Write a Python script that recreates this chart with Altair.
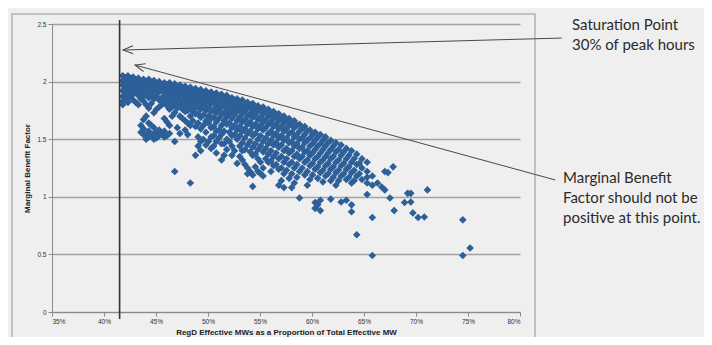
import altair as alt
import pandas as pd

# RegD effective MW share (%) -> list of marginal benefit factor values observed
band_left = [
    (41.8, [2.05, 2.01, 1.97, 1.92, 1.87, 1.83, 1.80]),
    (42.3, [2.05, 2.00, 1.96, 1.91, 1.86, 1.82]),
    (42.8, [2.04, 1.99, 1.95, 1.89, 1.84]),
    (43.3, [2.03, 1.99, 1.94, 1.88, 1.80]),
    (43.8, [2.02, 1.98, 1.93, 1.87, 1.83, 1.67, 1.59, 1.54]),
    (44.3, [2.02, 1.97, 1.92, 1.86, 1.77, 1.64, 1.57, 1.52]),
    (44.8, [2.01, 1.96, 1.91, 1.85, 1.73, 1.60, 1.55, 1.50]),
    (45.3, [2.00, 1.96, 1.91, 1.84, 1.78, 1.58, 1.53]),
    (45.8, [1.99, 1.95, 1.90, 1.83, 1.68, 1.57, 1.52]),
    (46.3, [1.99, 1.94, 1.89, 1.82, 1.76, 1.62, 1.55]),
    (46.8, [1.98, 1.93, 1.88, 1.81, 1.73, 1.48, 1.22]),
    (47.3, [1.97, 1.92, 1.87, 1.80, 1.70, 1.55]),
    (47.8, [1.96, 1.91, 1.86, 1.79, 1.74, 1.66, 1.58]),
]
band_mid = [
    (48.3, [1.95, 1.90, 1.85, 1.78, 1.70, 1.62, 1.12]),
    (48.8, [1.94, 1.89, 1.84, 1.77, 1.72, 1.61, 1.36]),
    (49.3, [1.93, 1.88, 1.83, 1.76, 1.69, 1.59, 1.48, 1.40]),
    (49.8, [1.92, 1.87, 1.82, 1.75, 1.66, 1.56, 1.45]),
    (50.3, [1.91, 1.86, 1.81, 1.74, 1.68, 1.60, 1.52, 1.42]),
    (50.8, [1.90, 1.85, 1.79, 1.73, 1.65, 1.57, 1.48, 1.38]),
    (51.3, [1.89, 1.84, 1.78, 1.71, 1.62, 1.54, 1.46, 1.32]),
    (51.8, [1.88, 1.82, 1.76, 1.69, 1.63, 1.50, 1.41]),
    (52.3, [1.86, 1.81, 1.75, 1.68, 1.60, 1.53, 1.44, 1.36]),
    (52.8, [1.85, 1.80, 1.74, 1.66, 1.58, 1.50, 1.29]),
    (53.3, [1.84, 1.78, 1.72, 1.65, 1.57, 1.47, 1.40, 1.32]),
    (53.8, [1.82, 1.77, 1.70, 1.63, 1.55, 1.45, 1.25, 1.20]),
    (54.3, [1.81, 1.75, 1.69, 1.61, 1.53, 1.43, 1.36, 1.19, 1.09]),
    (54.8, [1.79, 1.74, 1.67, 1.59, 1.50, 1.41, 1.33, 1.22]),
]
band_right = [
    (55.3, [1.78, 1.72, 1.65, 1.58, 1.48, 1.39, 1.25, 1.18]),
    (55.8, [1.76, 1.70, 1.63, 1.55, 1.46, 1.37, 1.30]),
    (56.3, [1.74, 1.68, 1.61, 1.53, 1.45, 1.35, 1.27]),
    (56.8, [1.72, 1.66, 1.59, 1.51, 1.43, 1.33, 1.24, 1.10]),
    (57.3, [1.70, 1.64, 1.57, 1.49, 1.40, 1.30, 1.20, 1.08]),
    (57.8, [1.68, 1.62, 1.55, 1.47, 1.38, 1.28, 1.16]),
    (58.3, [1.66, 1.60, 1.52, 1.44, 1.35, 1.25, 1.12]),
    (58.8, [1.63, 1.57, 1.50, 1.42, 1.33, 1.22, 0.99]),
    (59.3, [1.61, 1.54, 1.47, 1.39, 1.30, 1.19]),
    (59.8, [1.58, 1.51, 1.44, 1.36, 1.27, 1.15]),
    (60.3, [1.56, 1.49, 1.41, 1.33, 1.24, 0.95, 0.90]),
    (60.8, [1.54, 1.46, 1.38, 1.30, 1.21, 0.97, 0.88]),
]
band_tail = [
    (61.3, [1.52, 1.44, 1.35, 1.27, 1.18]),
    (61.8, [1.49, 1.41, 1.33, 1.24, 1.14, 0.98]),
    (62.3, [1.47, 1.39, 1.30, 1.21, 1.10]),
    (62.8, [1.45, 1.36, 1.27, 1.18, 0.955]),
    (63.3, [1.42, 1.33, 1.24, 1.15, 0.97]),
    (63.8, [1.40, 1.30, 1.21, 1.12, 0.93, 0.87]),
    (64.3, [1.37, 1.28, 1.18, 0.67]),
    (64.8, [1.33, 1.25, 1.15]),
    (65.3, [1.30, 1.22, 1.17, 1.12, 1.02]),
    (65.8, [1.18, 1.10, 0.82, 0.49]),
]
band_fill = [
    (42.05, [2.03, 1.98, 1.94, 1.89, 1.84]),
    (42.55, [2.02, 1.97, 1.92, 1.87]),
    (43.05, [2.01, 1.96, 1.91, 1.82]),
    (43.55, [2.00, 1.95, 1.90, 1.85, 1.62, 1.56]),
    (44.05, [2.00, 1.95, 1.89, 1.80, 1.70, 1.55, 1.50]),
    (44.55, [1.99, 1.94, 1.88, 1.81, 1.62, 1.53]),
    (45.05, [1.98, 1.93, 1.87, 1.76, 1.56, 1.51]),
    (45.55, [1.97, 1.93, 1.86, 1.80, 1.55]),
    (46.05, [1.97, 1.92, 1.86, 1.79, 1.65, 1.53]),
    (46.55, [1.96, 1.91, 1.85, 1.78, 1.70]),
    (47.05, [1.95, 1.90, 1.84, 1.77, 1.60]),
    (47.55, [1.94, 1.89, 1.83, 1.76, 1.68]),
    (48.05, [1.93, 1.88, 1.82, 1.75, 1.64, 1.54]),
    (48.55, [1.92, 1.87, 1.81, 1.74, 1.66]),
    (49.05, [1.91, 1.86, 1.80, 1.72, 1.64, 1.52, 1.44]),
    (49.55, [1.90, 1.85, 1.79, 1.71, 1.62, 1.50]),
    (50.05, [1.89, 1.84, 1.78, 1.70, 1.64, 1.48]),
    (50.55, [1.88, 1.83, 1.76, 1.69, 1.61, 1.53, 1.44]),
    (51.05, [1.87, 1.81, 1.75, 1.68, 1.58, 1.51]),
    (51.55, [1.86, 1.80, 1.73, 1.66, 1.57, 1.46, 1.36]),
    (52.05, [1.85, 1.78, 1.72, 1.64, 1.56, 1.48]),
    (52.55, [1.84, 1.77, 1.71, 1.62, 1.54, 1.40]),
    (53.05, [1.82, 1.76, 1.69, 1.61, 1.53, 1.44, 1.35]),
    (53.55, [1.80, 1.74, 1.67, 1.59, 1.51, 1.41, 1.28]),
    (54.05, [1.79, 1.72, 1.65, 1.57, 1.48, 1.39, 1.22]),
    (54.55, [1.77, 1.71, 1.63, 1.55, 1.46, 1.37, 1.26]),
    (55.05, [1.76, 1.69, 1.62, 1.53, 1.44, 1.30, 1.20]),
    (55.55, [1.74, 1.67, 1.60, 1.51, 1.42, 1.33]),
    (56.05, [1.72, 1.65, 1.57, 1.49, 1.40, 1.31, 1.22]),
    (56.55, [1.70, 1.63, 1.55, 1.47, 1.38, 1.28]),
    (57.05, [1.68, 1.61, 1.53, 1.45, 1.35, 1.25, 1.14]),
    (57.55, [1.66, 1.59, 1.51, 1.42, 1.33, 1.23]),
    (58.05, [1.64, 1.56, 1.48, 1.40, 1.30, 1.20, 1.08]),
    (58.55, [1.62, 1.54, 1.46, 1.37, 1.28, 1.17]),
    (59.05, [1.59, 1.51, 1.43, 1.35, 1.25]),
    (59.55, [1.57, 1.49, 1.40, 1.32, 1.22, 1.10]),
    (60.05, [1.54, 1.46, 1.38, 1.29, 1.19]),
    (60.55, [1.52, 1.44, 1.35, 1.26, 1.16, 0.93]),
    (61.05, [1.49, 1.41, 1.32, 1.23, 1.13]),
    (61.55, [1.47, 1.38, 1.29, 1.20]),
    (62.05, [1.44, 1.35, 1.26, 1.17]),
    (62.55, [1.41, 1.32, 1.23, 1.14]),
    (63.05, [1.39, 1.29, 1.20]),
    (63.55, [1.36, 1.26, 1.17]),
    (64.05, [1.33, 1.23, 1.14]),
    (64.55, [1.29, 1.20]),
]
outliers = [
    (66.3, [1.12]), (66.7, [1.085]), (67.0, [1.06, 1.22]), (67.3, [1.21]),
    (67.5, [0.99]), (67.8, [1.26]), (67.9, [0.88]), (68.9, [0.95]),
    (69.2, [1.03]), (69.5, [1.03, 0.955]), (69.7, [0.86]), (70.2, [0.82]),
    (70.8, [0.825]), (71.1, [1.06]), (74.5, [0.80, 0.49]), (75.2, [0.555]),
]

x_ticks = [35, 40, 45, 50, 55, 60, 65, 70, 75, 80]
y_ticks = [0, 0.5, 1, 1.5, 2, 2.5]
saturation_x = 41.5

# annotation arrows: (tip x, tip y, tail x, tail y, head angle)
arrows = pd.DataFrame({
    "x": [41.83, 42.98], "y": [2.274, 2.144],
    "x2": [84.0, 83.4], "y2": [2.378, 1.146],
    "ang": [358.4, 15.3],
})
notes = pd.DataFrame({
    "label": ["Saturation Point\n30% of peak hours",
              "Marginal Benefit\nFactor should not be\npositive at this point."],
    "px": [520, 511], "py": [5.5, 158.5],
})

rows = []
for group in (band_left, band_mid, band_right, band_tail, band_fill, outliers):
    for xv, ys in group:
        for yv in ys:
            rows.append({"share": xv, "mbf": yv})
pts = pd.DataFrame(rows)

xs = alt.Scale(domain=[35, 80], nice=False, zero=False)
ys_ = alt.Scale(domain=[0, 2.5], nice=False)

base_font = "Liberation Sans"

scatter = alt.Chart(pts).mark_point(
    shape="diamond", filled=True, size=58, color="#2d5f99", opacity=1
).encode(
    x=alt.X("share:Q", scale=xs,
            axis=alt.Axis(values=x_ticks, labelExpr="datum.value + '%'",
                          grid=False, title="RegD Effective MWs  as a Proportion of Total Effective MW",
                          titleFontWeight="bold", titleFontSize=8, labelFontSize=6.5,
                          tickSize=4, labelPadding=2, titlePadding=4,
                          domainColor="#8a8a8a", tickColor="#8a8a8a",
                          labelColor="#333333", titleColor="#222222",
                          labelFont=base_font, titleFont=base_font)),
    y=alt.Y("mbf:Q", scale=ys_,
            axis=alt.Axis(values=y_ticks, format="~g", grid=True, gridColor="#a3a3a3", gridWidth=1.3,
                          title="Marginal Benefit Factor",
                          titleFontWeight="bold", titleFontSize=8, labelFontSize=6.5,
                          tickSize=4, labelPadding=2, titlePadding=5,
                          domainColor="#8a8a8a", tickColor="#8a8a8a",
                          labelColor="#333333", titleColor="#222222",
                          labelFont=base_font, titleFont=base_font)),
)

frame = alt.Chart(pd.DataFrame({"a": [0]})).mark_rect(
    fill="transparent", stroke="#b3b3b3", strokeWidth=1.5
).encode(x=alt.value(-40), x2=alt.value(483), y=alt.value(-10), y2=alt.value(345))

vline = alt.Chart(pd.DataFrame({"x": [saturation_x], "y": [2.535], "y2": [-0.06]})).mark_rule(
    color="#333333", strokeWidth=1.6
).encode(x=alt.X("x:Q", scale=xs), y=alt.Y("y:Q", scale=ys_), y2="y2:Q")

arrow_lines = alt.Chart(arrows).mark_rule(color="#4a4a4a", strokeWidth=1).encode(
    x=alt.X("x:Q", scale=xs), y=alt.Y("y:Q", scale=ys_), x2="x2:Q", y2="y2:Q"
)
heads = alt.Chart(arrows).mark_point(
    shape="M2,-0.8L0,0L2,0.8", filled=False, size=100, color="#4a4a4a", strokeWidth=1, opacity=1
).encode(
    x=alt.X("x:Q", scale=xs), y=alt.Y("y:Q", scale=ys_), angle=alt.Angle("ang:Q", scale=None)
)

texts = alt.Chart(notes).mark_text(
    align="left", baseline="alphabetic", font="Lato", fontSize=15, lineHeight=20,
    color="#2b2b2b", lineBreak="\n"
).encode(x=alt.X("px:Q", scale=None), y=alt.Y("py:Q", scale=None), text="label:N")

chart = alt.layer(frame, scatter, vline, arrow_lines, heads, texts).properties(
    width=468, height=288,
    autosize=alt.AutoSizeParams(type="none"),
    padding={"left": 44, "top": 16, "right": 184, "bottom": 25},
    background="#efefef",
).configure_view(strokeWidth=0)

chart.save("out.html", embed_options={"renderer": "svg", "actions": False})
